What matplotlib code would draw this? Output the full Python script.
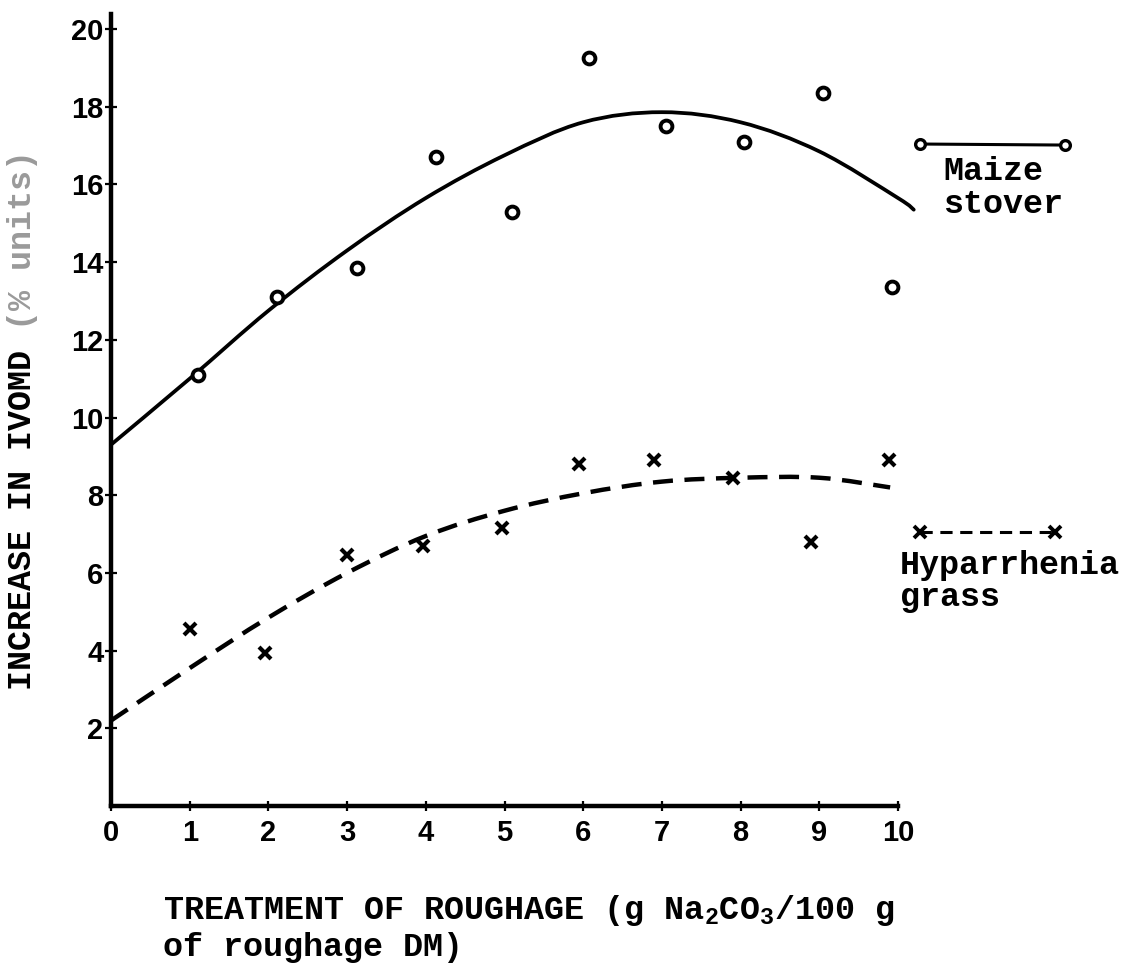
import numpy as np
import matplotlib
matplotlib.use('Agg')
import matplotlib.pyplot as plt
from matplotlib.path import Path
from matplotlib.patches import PathPatch

# ---------------- data ----------------
maize_x = [1.10, 2.11, 3.13, 4.13, 5.10, 6.07, 7.05, 8.04, 9.05, 9.92]
maize_y = [11.1, 13.1, 13.85, 16.7, 15.3, 19.25, 17.5, 17.1, 18.35, 13.35]

hyp_x = [1.00, 1.96, 3.00, 3.96, 4.97, 5.95, 6.90, 7.90, 8.90, 9.89]
hyp_y = [4.55, 3.95, 6.45, 6.70, 7.15, 8.80, 8.90, 8.45, 6.80, 8.90]

maize_fit_x = [0, 1, 2, 3, 4, 5, 6, 7, 8, 9, 10, 10.2]
maize_fit_y = [9.3, 11.0, 12.75, 14.3, 15.65, 16.75, 17.6, 17.86, 17.6, 16.85, 15.65, 15.35]

hyp_fit_x = [0, 1, 2, 3, 4, 5, 6, 7, 8, 9, 9.9]
hyp_fit_y = [2.2, 3.55, 4.85, 6.0, 6.95, 7.6, 8.05, 8.35, 8.45, 8.45, 8.2]

x_ticks = list(range(0, 11))
y_ticks = list(range(2, 21, 2))

ylabel_main = "INCREASE IN IVOMD"
ylabel_units = "(% units)"
xlabel_line1 = "TREATMENT OF ROUGHAGE (g Na$_2$CO$_3$/100 g"
xlabel_line2 = "of roughage DM)"
maize_label = ["Maize", "stover"]
hyp_label = ["Hyparrhenia", "grass"]

# ---------------- style ----------------
plt.rcParams['mathtext.fontset'] = 'custom'
plt.rcParams['mathtext.rm'] = 'Liberation Mono:bold'
plt.rcParams['mathtext.default'] = 'rm'

W, H = 1132, 964
fig = plt.figure(figsize=(W / 100, H / 100), dpi=100)
fig.patch.set_facecolor('white')

ax = fig.add_axes([111 / W, 1 - 806 / H, 787 / W, 792.5 / H])
ax.set_xlim(0, 10)
ax.set_ylim(0, 20.4)

for s in ['top', 'right']:
    ax.spines[s].set_visible(False)
for s in ['left', 'bottom']:
    ax.spines[s].set_linewidth(3.2)
    ax.spines[s].set_color('black')

tick_font = dict(family=['Liberation Sans', 'DejaVu Sans'], weight='bold', size=21)
ax.set_xticks(x_ticks)
ax.set_xticklabels([str(v) for v in x_ticks], fontdict=tick_font)
ax.set_yticks(y_ticks)
ax.set_yticklabels([str(v) for v in y_ticks], fontdict=tick_font)
ax.tick_params(axis='x', direction='inout', length=7, width=1.6, pad=6)
ax.tick_params(axis='y', direction='inout', length=9, width=1.6, pad=1)


def smooth_path(xs, ys):
    P = np.column_stack([xs, ys]).astype(float)
    n = len(P)
    verts = [P[0]]
    codes = [Path.MOVETO]
    for i in range(n - 1):
        p0 = P[i - 1] if i > 0 else P[i]
        p1 = P[i]
        p2 = P[i + 1]
        p3 = P[i + 2] if i + 2 < n else P[i + 1]
        c1 = p1 + (p2 - p0) / 6.0
        c2 = p2 - (p3 - p1) / 6.0
        verts += [c1, c2, p2]
        codes += [Path.CURVE4] * 3
    return Path(verts, codes)


# fitted curves
ax.add_patch(PathPatch(smooth_path(maize_fit_x, maize_fit_y), fill=False,
                       edgecolor='black', linewidth=2.7, clip_on=False,
                       capstyle='round'))
ax.add_patch(PathPatch(smooth_path(hyp_fit_x, hyp_fit_y), fill=False,
                       edgecolor='black', linewidth=3.2, clip_on=False,
                       linestyle=(0, (4.5, 2.6)), capstyle='butt'))

# data points
ax.plot(maize_x, maize_y, linestyle='none', marker='o', ms=8.5, mew=2.8,
        mfc='white', mec='black', clip_on=False, zorder=5)
ax.plot(hyp_x, hyp_y, linestyle='none', marker='x', ms=8.5, mew=3.0,
        color='black', clip_on=False, zorder=5)

# legend samples (axes-fraction positions, right of the axes)
ax.plot([1.028, 1.212], [0.8353, 0.8340], transform=ax.transAxes, color='black',
        lw=2.2, clip_on=False)
ax.plot([1.028, 1.212], [0.8353, 0.8340], transform=ax.transAxes, linestyle='none',
        marker='o', ms=7, mew=2.4, mfc='white', mec='black', clip_on=False)
ax.plot([1.028, 1.1995], [0.3457, 0.3457], transform=ax.transAxes, color='black',
        lw=2.2, linestyle=(0, (4, 2.5)), clip_on=False)
ax.plot([1.028, 1.1995], [0.3457, 0.3457], transform=ax.transAxes, linestyle='none',
        marker='x', ms=8.5, mew=2.8, color='black', clip_on=False)


def ftext(px, py, s, **kw):
    return fig.text(px / W, 1 - py / H, s, **kw)


mono = dict(family=['Liberation Mono', 'DejaVu Sans Mono'], weight='bold', size=24)

ftext(943, 180, maize_label[0], va='baseline', ha='left', **mono)
ftext(943, 213, maize_label[1], va='baseline', ha='left', **mono)
ftext(900, 574, hyp_label[0], va='baseline', ha='left', **mono)
ftext(900, 606, hyp_label[1], va='baseline', ha='left', **mono)

ftext(163, 919, xlabel_line1, va='baseline', ha='left', **mono)
ftext(163, 956, xlabel_line2, va='baseline', ha='left', **mono)

ftext(23, 690, ylabel_main, rotation=90, va='bottom', ha='center', **mono)
ftext(23, 330, ylabel_units, rotation=90, va='bottom', ha='center',
      color='#9a9a9a', **mono)

fig.savefig('out.png', dpi=100, facecolor='white')
